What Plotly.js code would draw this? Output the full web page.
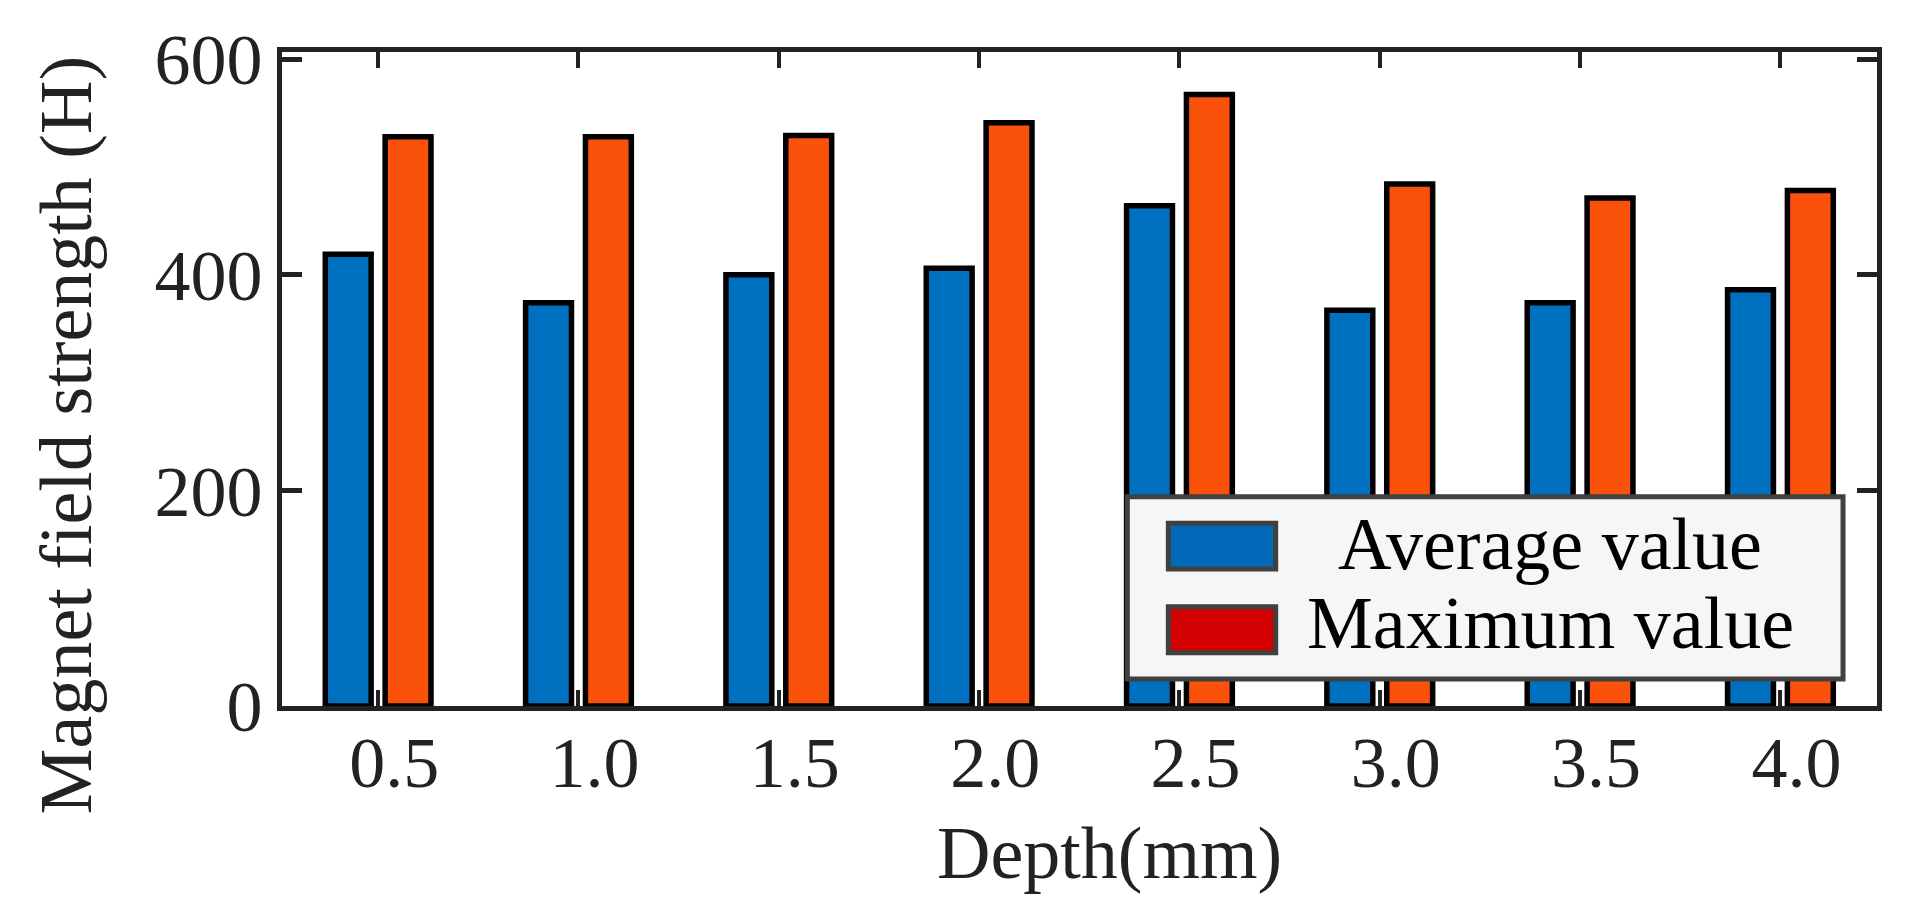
<!DOCTYPE html>
<html>
<head>
<meta charset="utf-8">
<script src="https://cdn.plot.ly/plotly-3.0.1.min.js"></script>
<style>
  html, body { margin: 0; padding: 0; background: #fff; }
  #chart { width: 1907px; height: 913px; }
</style>
</head>
<body>
<div id="chart"></div>
<script>
// depth of the defect (mm) and the field strength read at it
var depths = [0.5, 1.0, 1.5, 2.0, 2.5, 3.0, 3.5, 4.0];
var depthLabels = ['0.5', '1.0', '1.5', '2.0', '2.5', '3.0', '3.5', '4.0'];
var averageValues = [419, 374, 400, 406, 464, 367, 374, 386];
var maximumValues = [528, 528, 529, 541, 567, 484, 471, 478];
var yTicks = [0, 200, 400, 600];
var legendNames = ['Average value', 'Maximum value'];

var serif = 'Liberation Serif, Times New Roman, serif';

function plot_depth_bars(divId) {
    var trace1 = {x: depths, y: averageValues, type: 'bar', name: legendNames[0],
                  offset: -0.132, width: 0.1145,
                  marker: {color: '#0070C0', line: {color: '#000', width: 5.5}}};
    var trace2 = {x: depths, y: maximumValues, type: 'bar', name: legendNames[1],
                  offset: 0.0174, width: 0.1145,
                  marker: {color: '#FA520A', line: {color: '#000', width: 5.5}}};
    var layout = {
        width: 1907, height: 913,
        margin: {l: 282, r: 30, t: 52, b: 207, pad: 0},
        barmode: 'overlay', showlegend: false,
        paper_bgcolor: '#fff', plot_bgcolor: '#fff',
        font: {family: serif, size: 72, color: '#222'},
        shapes: [], annotations: []
    };
    setXAxis(layout);
    setYAxis(layout);
    addTitles(layout, 'Depth(mm)', 'Magnet field strength (H)');
    addLegendBox(layout);
    Plotly.newPlot(divId, [trace1, trace2], layout, {displayModeBar: false, staticPlot: true});
}

/**
 * Utility functions
 */
function setXAxis(layout) {
    layout.xaxis = {range: [0.26, 4.241], tickvals: depths, ticktext: depthLabels,
        showline: true, linecolor: '#222', linewidth: 5, mirror: 'allticks',
        ticks: 'inside', ticklen: 16, tickwidth: 4, tickcolor: '#222',
        showgrid: false, zeroline: false, ticklabelshift: 16, ticklabelstandoff: -10,
        tickfont: {family: serif, size: 72, color: '#222'}};
    return layout;
}

function setYAxis(layout) {
    layout.yaxis = {range: [0, 606.5], tickvals: yTicks,
        showline: true, linecolor: '#222', linewidth: 5, mirror: 'allticks',
        ticks: 'inside', ticklen: 20, tickwidth: 5, tickcolor: '#222',
        showgrid: false, zeroline: false,
        tickfont: {family: serif, size: 72, color: '#222'}};
    return layout;
}

// both axis titles sit off-centre in the original, so they are annotations
function addTitles(layout, xtitle, ytitle) {
    layout.annotations.push({text: xtitle, xref: 'paper', yref: 'paper', x: 0.519, y: 0,
        xanchor: 'center', yanchor: 'middle', yshift: -147, showarrow: false,
        font: {family: serif, size: 74, color: '#222'}});
    layout.annotations.push({text: ytitle, xref: 'paper', yref: 'paper', x: 0, y: 0.414,
        xanchor: 'center', yanchor: 'middle', xshift: -216, textangle: -90, showarrow: false,
        font: {family: serif, size: 74, color: '#222'}});
    return layout;
}

// boxed legend with big swatches, drawn by hand
function addLegendBox(layout) {
    var p = {type: 'rect', xref: 'paper', yref: 'paper'};
    layout.shapes.push(Object.assign({}, p, {x0: 0.530, x1: 0.9787, y0: 0.0413, y1: 0.320,
        fillcolor: '#F6F6F6', line: {color: '#404040', width: 5}}));
    layout.shapes.push(Object.assign({}, p, {x0: 0.5557, x1: 0.6230, y0: 0.2095, y1: 0.2794,
        fillcolor: '#006AB8', line: {color: '#404040', width: 5}}));
    layout.shapes.push(Object.assign({}, p, {x0: 0.5557, x1: 0.6230, y0: 0.0815, y1: 0.1518,
        fillcolor: '#D20000', line: {color: '#404040', width: 5}}));
    var ys = [0.2477, 0.1274];
    for (var i = 0; i < legendNames.length; i++) {
        layout.annotations.push({text: legendNames[i], xref: 'paper', yref: 'paper',
            x: 0.795, y: ys[i], xanchor: 'center', yanchor: 'middle', showarrow: false,
            font: {family: serif, size: 74, color: '#000'}});
    }
    return layout;
}

plot_depth_bars('chart');
</script>
</body>
</html>
